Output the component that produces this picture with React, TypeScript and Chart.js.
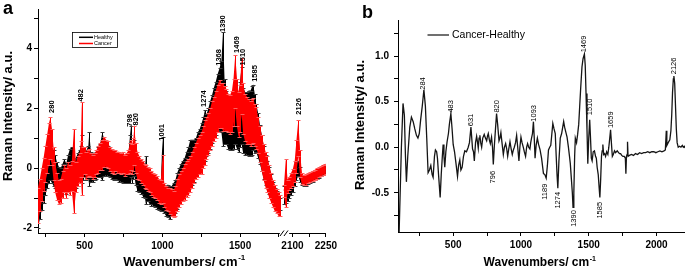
import React, { useEffect, useRef } from 'react';
import { Chart, registerables } from 'chart.js';

Chart.register(...registerables);

const FONT = '"Liberation Sans", Arial, Helvetica, sans-serif';

// ---------------- Panel a : Healthy vs Cancer (mean ± error) ----------------
const waveA = [
  200, 212, 224, 236, 248, 260, 270, 280, 290, 300,
  310, 322, 334, 346, 358, 370, 382, 394, 406, 418,
  431, 444, 456, 468, 476, 482, 490, 500, 512, 524,
  530, 540, 552, 564, 576, 588, 600, 614, 626, 638,
  650, 662, 674, 686, 698, 710, 722, 734, 746, 758,
  770, 782, 792, 798, 806, 814, 820, 828, 840, 852,
  864, 876, 888, 894, 906, 918, 930, 942, 954, 966,
  978, 990, 1001, 1012, 1024, 1036, 1048, 1060, 1072, 1084,
  1096, 1108, 1120, 1132, 1144, 1156, 1168, 1180, 1192, 1204,
  1216, 1228, 1240, 1252, 1264, 1274, 1284, 1296, 1308, 1320,
  1332, 1344, 1356, 1368, 1380, 1390, 1400, 1412, 1424, 1436,
  1448, 1458, 1469, 1480, 1490, 1500, 1510, 1520, 1532, 1544,
  1556, 1568, 1578, 1585, 1594, 1604, 1616, 1628, 1640, 1652,
  1664, 1676, 1688, 1700, 1712, 1724, 1736, 1748, 1756,
  2062, 2070, 2078, 2086, 2094, 2102, 2110, 2118, 2126, 2134,
  2142, 2150, 2160, 2170, 2180, 2190, 2200, 2210, 2220, 2230,
  2240, 2250,
];

const cancerMean = [
  -1.25, -0.9, -0.55, -0.2, 0.15, 0.5, 0.8, 1.0, 0.7, 0.15,
  -0.3, -0.6, -0.8, -0.75, -0.55, -0.35, -0.5, -0.3, -0.4, -0.25,
  -0.1, -0.3, -0.1, 0.0, 0.3, 0.65, 0.2, 0.25, 0.1, 0.15,
  0.2, 0.1, 0.05, 0.1, 0.2, 0.3, 0.4, 0.45, 0.55, 0.5,
  0.45, 0.3, 0.25, 0.2, 0.25, 0.2, 0.2, 0.15, 0.2, 0.1,
  0.15, 0.2, 0.35, 0.45, 0.3, 0.45, 0.75, 0.35, 0.1, 0.0,
  -0.1, -0.15, -0.25, -0.3, -0.35, -0.4, -0.5, -0.55, -0.6, -0.65,
  -0.75, -0.8, -0.35, -0.9, -1.0, -1.05, -1.1, -1.15, -1.2, -1.1,
  -0.9, -0.75, -0.65, -0.55, -0.45, -0.35, -0.3, -0.2, -0.05, 0.1,
  0.25, 0.35, 0.45, 0.5, 0.7, 0.85, 1.0, 1.15, 1.3, 1.5,
  1.65, 1.8, 2.0, 2.15, 2.1, 2.05, 2.0, 1.95, 1.85, 1.8,
  1.9, 2.2, 2.9, 2.2, 1.8, 2.0, 2.75, 2.0, 1.7, 1.6,
  1.55, 1.5, 1.55, 1.6, 1.45, 1.35, 1.1, 0.8, 0.5, 0.2,
  -0.05, -0.2, -0.45, -0.65, -0.85, -1.0, -1.1, -1.2, -1.25,
  -0.75, -0.5, -0.6, -0.5, -0.4, -0.3, -0.1, 0.4, 1.0, 0.15,
  -0.35, -0.4, -0.38, -0.34, -0.3, -0.26, -0.22, -0.18, -0.14, -0.08,
  -0.05, -0.02,
];

const cancerErr = [
  0.6, 0.55, 0.55, 0.55, 0.6, 0.65, 0.7, 0.7, 0.6, 0.55,
  0.5, 0.45, 0.4, 0.4, 0.45, 0.45, 0.5, 0.5, 0.5, 0.5,
  1.4, 0.5, 0.5, 0.5, 0.6, 1.55, 0.5, 0.45, 0.45, 0.45,
  0.45, 0.4, 0.4, 0.4, 0.4, 0.45, 0.45, 0.5, 0.5, 0.45,
  0.45, 0.4, 0.4, 0.4, 0.35, 0.35, 0.35, 0.35, 0.35, 0.35,
  0.35, 0.4, 0.5, 0.5, 0.5, 0.55, 0.65, 0.5, 0.45, 0.4,
  0.4, 0.4, 0.4, 0.4, 0.4, 0.4, 0.4, 0.4, 0.4, 0.4,
  0.4, 0.4, 0.8, 0.4, 0.4, 0.4, 0.45, 0.45, 0.45, 0.5,
  0.55, 0.55, 0.55, 0.55, 0.6, 0.6, 0.6, 0.6, 0.6, 0.6,
  0.6, 0.65, 0.65, 0.7, 0.7, 0.75, 0.7, 0.7, 0.7, 0.75,
  0.75, 0.8, 0.8, 0.8, 0.75, 0.8, 0.75, 0.7, 0.65, 0.65,
  0.7, 0.8, 0.9, 0.8, 0.75, 0.8, 0.95, 0.85, 0.8, 0.8,
  0.75, 0.75, 0.75, 0.75, 0.7, 0.7, 0.6, 0.6, 0.6, 0.6,
  0.6, 0.6, 0.55, 0.5, 0.45, 0.45, 0.4, 0.4, 0.35,
  0.2, 0.8, 0.22, 0.22, 0.25, 0.28, 0.35, 0.55, 0.6, 0.45,
  0.18, 0.17, 0.17, 0.17, 0.17, 0.17, 0.17, 0.17, 0.17, 0.17,
  0.17, 0.17,
];

const healthyMean = [
  -1.5, -1.2, -0.9, -0.65, -0.4, -0.2, -0.05, 0.1, 0.05, 0.0,
  -0.1, -0.3, -0.4, -0.45, -0.3, -0.2, -0.35, -0.1, 0.05, 0.1,
  -0.2, -0.15, -0.05, 0.1, 0.2, 0.3, 0.1, 0.15, 0.1, 0.2,
  0.3, 0.05, 0.0, 0.05, 0.1, 0.2, 0.25, 0.4, 0.35, 0.3,
  0.25, 0.15, 0.1, 0.05, 0.05, 0.0, -0.05, -0.05, -0.05, -0.1,
  -0.1, 0.0, 0.3, 0.55, 0.1, 0.2, 0.35, 0.0, -0.2, -0.3,
  -0.35, -0.45, -0.5, -0.4, -0.6, -0.7, -0.75, -0.8, -0.85, -0.9,
  -0.95, -1.0, -0.2, -1.05, -1.1, -1.1, -1.15, -1.1, -1.05, -0.95,
  -0.75, -0.6, -0.45, -0.35, -0.25, -0.1, 0.0, 0.2, 0.2, 0.25,
  0.35, 0.5, 0.6, 0.75, 0.9, 1.1, 1.1, 1.25, 1.45, 1.65,
  1.85, 2.0, 2.2, 2.3, 2.4, 2.65, 1.9, 1.7, 1.5, 1.45,
  1.5, 1.6, 1.8, 1.6, 1.5, 1.8, 2.1, 1.6, 1.5, 1.5,
  1.5, 1.5, 1.6, 1.7, 1.5, 1.35, 1.1, 0.8, 0.5, 0.2,
  -0.05, -0.2, -0.4, -0.6, -0.8, -0.95, -1.05, -1.15, -1.2,
  -0.9, -0.85, -0.8, -0.7, -0.6, -0.5, -0.3, -0.1, 0.0, -0.2,
  -0.4, -0.45, -0.43, -0.38, -0.34, -0.3, -0.26, -0.22, -0.18, -0.12,
  -0.09, -0.06,
];

const healthyErr = [
  0.5, 0.5, 0.5, 0.5, 0.5, 0.45, 0.45, 0.5, 0.55, 0.6,
  0.55, 0.5, 0.45, 0.45, 0.45, 0.5, 0.5, 0.55, 0.6, 0.6,
  0.5, 0.5, 0.55, 0.5, 0.55, 0.8, 0.5, 0.45, 0.5, 0.55,
  0.9, 0.5, 0.45, 0.45, 0.45, 0.5, 0.55, 0.8, 0.6, 0.55,
  0.5, 0.45, 0.45, 0.45, 0.4, 0.4, 0.4, 0.4, 0.45, 0.4,
  0.4, 0.5, 0.8, 0.85, 0.6, 0.55, 0.6, 0.55, 0.55, 0.5,
  0.5, 0.5, 0.5, 0.8, 0.5, 0.5, 0.5, 0.45, 0.45, 0.45,
  0.45, 0.45, 1.25, 0.45, 0.5, 0.55, 0.55, 0.5, 0.55, 0.55,
  0.6, 0.6, 0.6, 0.6, 0.6, 0.65, 0.7, 0.75, 0.75, 0.7,
  0.65, 0.7, 0.7, 0.75, 0.8, 0.85, 0.7, 0.75, 0.8, 0.8,
  0.85, 0.9, 0.95, 1.05, 1.2, 1.9, 1.1, 0.9, 0.85, 0.85,
  0.9, 0.95, 1.0, 0.95, 0.95, 1.1, 1.3, 1.1, 1.05, 1.05,
  1.1, 1.1, 1.15, 1.1, 1.0, 0.8, 0.75, 0.65, 0.6, 0.55,
  0.5, 0.45, 0.45, 0.4, 0.35, 0.3, 0.3, 0.25, 0.2,
  0.3, 0.3, 0.3, 0.3, 0.3, 0.3, 0.3, 0.3, 0.25, 0.25,
  0.15, 0.15, 0.15, 0.15, 0.15, 0.15, 0.15, 0.15, 0.15, 0.15,
  0.15, 0.15,
];

const tickWA = [250, 500, 750, 1000, 1250, 1500, 1750, 2100, 2175, 2250];
const tickLabelWA = [500, 1000, 1500, 2100, 2250];
const tickYA = [-2, -1, 0, 1, 2, 3, 4, 5];

const peakTextA = ['280', '482', '798', '820', '1001', '1274', '1368', '1390', '1469', '1510', '1585', '2126'];
const peakWA = [292, 479, 790, 833, 1000, 1269, 1363, 1392, 1479, 1521, 1597, 2130];
const peakVA = [1.85, 2.23, 1.39, 1.43, 0.92, 2.05, 3.43, 4.56, 3.86, 3.44, 2.89, 1.79];

// ---------------- Panel b : Cancer - Healthy ----------------
const waveB = [
  100, 118, 130, 140, 148, 155, 165, 180, 192, 205,
  217, 229, 240, 250, 260, 272, 284, 295, 305, 315,
  325, 335, 345, 352, 362, 369, 378, 384, 392, 404,
  412, 420, 426, 432, 438, 446, 455, 465, 472, 483,
  492, 500, 510, 520, 532, 540, 549, 557, 566, 576,
  586, 598, 611, 620, 631, 637, 643, 650, 656, 665,
  673, 680, 685, 691, 697, 703, 710, 718, 729, 738,
  747, 753, 759, 767, 774, 783, 790, 796, 803, 813,
  820, 828, 838, 845, 852, 860, 870, 878, 887, 895,
  902, 910, 919, 928, 936, 944, 951, 960, 968, 976,
  985, 992, 1000, 1008, 1017, 1025, 1034, 1042, 1049, 1057,
  1066, 1072, 1078, 1085, 1092, 1098, 1104, 1112, 1121, 1130,
  1141, 1152, 1166, 1176, 1186, 1195, 1203, 1212, 1220, 1228,
  1235, 1244, 1253, 1260, 1266, 1272, 1280, 1290, 1300, 1308,
  1315, 1322, 1330, 1340, 1350, 1358, 1364, 1372, 1379, 1384,
  1390, 1396, 1401, 1410, 1418, 1426, 1433, 1441, 1450, 1458,
  1468, 1474, 1480, 1487, 1493, 1500, 1507, 1513, 1519, 1525,
  1533, 1542, 1550, 1556, 1562, 1570, 1577, 1582, 1588, 1594,
  1599, 1604, 1610, 1617, 1624, 1632, 1641, 1648, 1655, 1661,
  1667, 1674, 1681, 1690, 1698, 1710, 1720, 1727, 1735, 1743,
  1752, 1762, 1770, 1774, 1778, 1783, 1786, 1790, 1800, 1815,
  1830, 1845, 1860, 1875, 1890, 1905, 1920, 1935, 1950, 1965,
  1980, 1995, 2010, 2025, 2040, 2055, 2065, 2072, 2076, 2086,
  2098, 2106, 2112, 2118, 2124, 2128, 2134, 2140, 2146, 2152,
  2160, 2170, 2180, 2190, 2198, 2205, 2210,
];

const diffB = [
  -1.0, 0.0, 0.48, 0.35, -0.1, -0.38, -0.1, 0.22, 0.33, 0.28,
  0.2, 0.13, 0.1, 0.15, 0.3, 0.45, 0.63, 0.45, 0.1, -0.28,
  -0.25, -0.2, -0.3, -0.33, -0.1, -0.03, -0.05, -0.12, -0.3, -0.55,
  -0.3, -0.1, 0.03, -0.1, -0.22, -0.05, 0.06, 0.15, 0.25, 0.37,
  0.2, 0.03, -0.05, -0.17, -0.32, -0.2, -0.14, -0.25, -0.22, -0.1,
  -0.04, -0.05, 0.0, 0.05, 0.22, 0.1, -0.02, -0.05, -0.15, 0.05,
  0.12, 0.05, -0.01, 0.1, 0.13, 0.05, 0.0, 0.1, 0.14, 0.1,
  0.07, 0.12, 0.15, 0.08, 0.04, 0.11, 0.0, -0.19, 0.0, 0.22,
  0.37, 0.25, 0.07, 0.1, 0.16, 0.05, -0.08, 0.0, 0.04, -0.02,
  -0.1, -0.02, 0.06, -0.02, -0.08, -0.03, 0.0, 0.05, 0.13, 0.0,
  -0.15, 0.0, 0.11, 0.05, 0.0, -0.05, -0.1, 0.0, 0.04, 0.0,
  -0.02, 0.05, 0.1, 0.15, 0.28, 0.1, -0.12, 0.02, 0.1, 0.03,
  -0.03, -0.12, -0.29, -0.3, -0.34, -0.2, -0.03, 0.0, 0.02, 0.15,
  0.26, 0.2, 0.15, -0.1, -0.3, -0.45, -0.15, 0.1, 0.15, 0.22,
  0.28, 0.22, 0.17, 0.11, 0.0, -0.1, -0.18, -0.35, -0.5, -0.66,
  -0.5, -0.1, 0.1, 0.05, 0.14, 0.25, 0.44, 0.66, 0.88, 0.97,
  1.02, 0.9, 0.59, 0.2, -0.18, 0.1, 0.3, 0.1, -0.12, -0.15,
  -0.05, -0.04, -0.1, -0.12, -0.22, -0.3, -0.45, -0.55, -0.35, -0.1,
  -0.04, 0.03, -0.08, -0.07, -0.1, -0.05, -0.08, 0.0, 0.1, 0.19,
  0.05, -0.1, -0.08, -0.04, -0.06, -0.04, -0.06, -0.07, -0.07, -0.09,
  -0.1, -0.1, -0.12, -0.29, -0.1, -0.08, 0.06, -0.1, -0.09, -0.08,
  -0.09, -0.07, -0.08, -0.06, -0.07, -0.06, -0.06, -0.05, -0.06, -0.05,
  -0.05, -0.06, -0.05, -0.04, -0.05, -0.04, -0.03, 0.18, 0.02, 0.05,
  0.08, 0.18, 0.35, 0.6, 0.75, 0.78, 0.7, 0.45, 0.2, 0.05,
  0.0, 0.01, 0.0, 0.02, 0.0, 0.01, -0.01,
];

const tickWB = [250, 500, 750, 1000, 1250, 1500, 1750, 2000];
const tickYB = [-0.75, -0.5, -0.25, 0, 0.25, 0.5, 0.75, 1, 1.25];

const peakTextB = ['284', '483', '631', '820', '796', '1093', '1189', '1274', '1390', '1469', '1510', '1585', '1659', '2126'];
const peakWB = [278, 481, 631, 821, 796, 1097, 1178, 1272, 1388, 1467, 1511, 1585, 1664, 2127];
const peakVB = [0.63, 0.38, 0.23, 0.38, -0.26, 0.28, -0.4, -0.49, -0.69, 1.04, 0.35, -0.6, 0.21, 0.8];
const peakUpB = [true, true, true, true, false, true, false, false, false, true, true, false, true, true];

// ---------------- broken x axis of panel a ----------------
const BREAK_AXIS = 1780;
const RIGHT_FROM = 2060;
const RIGHT_STRETCH = 1.432;
const AXIS_LEFT_END = 1756;
const AXIS_RIGHT_START = 2085;
const toAxis = (w: number) => (w < 1900 ? w : BREAK_AXIS + (w - RIGHT_FROM) * RIGHT_STRETCH);
const fromAxis = (t: number) => (t <= BREAK_AXIS ? t : RIGHT_FROM + (t - BREAK_AXIS) / RIGHT_STRETCH);

function buildPoints(ys: number[]) {
  const pts: { x: number; y: number | null }[] = [];
  waveA.forEach((w, i) => {
    if (i > 0 && w - waveA[i - 1] > 100) pts.push({ x: toAxis(waveA[i - 1]) + 1, y: null });
    pts.push({ x: toAxis(w), y: ys[i] });
  });
  return pts;
}

const tickFont = { family: FONT, size: 10, weight: 'bold' as const };
const gridOpts = () => ({ drawOnChartArea: false, drawTicks: true, tickLength: 4, color: '#000', lineWidth: 1 });

function drawXTitle(ctx: CanvasRenderingContext2D, cx: number, baseline: number, size: number) {
  const main = 'Wavenumbers/ cm';
  const sup = '-1';
  const supSize = Math.round(size * 0.62);
  ctx.font = `bold ${size}px ${FONT}`;
  const mw = ctx.measureText(main).width;
  ctx.font = `bold ${supSize}px ${FONT}`;
  const sw = ctx.measureText(sup).width;
  const start = cx - (mw + sw) / 2;
  ctx.fillStyle = '#000';
  ctx.textAlign = 'left';
  ctx.textBaseline = 'alphabetic';
  ctx.font = `bold ${size}px ${FONT}`;
  ctx.fillText(main, start, baseline);
  ctx.font = `bold ${supSize}px ${FONT}`;
  ctx.fillText(sup, start + mw + 0.5, baseline - size * 0.45);
}

function drawYTitle(ctx: CanvasRenderingContext2D, cx: number, cy: number, size: number) {
  ctx.save();
  ctx.translate(cx, cy);
  ctx.rotate(-Math.PI / 2);
  ctx.font = `bold ${size}px ${FONT}`;
  ctx.fillStyle = '#000';
  ctx.textAlign = 'center';
  ctx.textBaseline = 'middle';
  ctx.fillText('Raman Intensity/ a.u.', 0, 0);
  ctx.restore();
}

function drawVerticalLabel(ctx: CanvasRenderingContext2D, text: string, px: number, py: number, up: boolean, font: string) {
  ctx.save();
  ctx.translate(px, py);
  ctx.rotate(-Math.PI / 2);
  ctx.font = font;
  ctx.fillStyle = '#000';
  ctx.textAlign = up ? 'left' : 'right';
  ctx.textBaseline = 'middle';
  ctx.fillText(text, 0, 0);
  ctx.restore();
}

const errorBarPlugin = {
  id: 'errorBars',
  afterDatasetDraw(chart: any, args: any) {
    const spec =
      args.index === 2
        ? { m: healthyMean, e: healthyErr, c: '#000', cap: '#3a3a3a' }
        : args.index === 5
        ? { m: cancerMean, e: cancerErr, c: 'rgb(255,0,0)', cap: 'rgb(255,95,95)' }
        : null;
    if (!spec) return;
    const { ctx, chartArea: ca, scales } = chart;
    const x = scales.x;
    const y = scales.y;
    ctx.save();
    ctx.beginPath();
    ctx.rect(ca.left, ca.top, ca.right - ca.left, ca.bottom - ca.top);
    ctx.clip();
    ctx.lineWidth = 1;
    const bars = waveA.map((w, i) => ({
      px: Math.round(x.getPixelForValue(toAxis(w))) + 0.5,
      top: Math.round(y.getPixelForValue(spec.m[i] + spec.e[i])) + 0.5,
      bot: Math.round(y.getPixelForValue(spec.m[i] - spec.e[i])) + 0.5,
    }));
    ctx.strokeStyle = spec.c;
    ctx.beginPath();
    bars.forEach((b) => {
      ctx.moveTo(b.px, b.top);
      ctx.lineTo(b.px, b.bot);
    });
    ctx.stroke();
    ctx.strokeStyle = spec.cap;
    ctx.beginPath();
    bars.forEach((b) => {
      ctx.moveTo(b.px - 2, b.top);
      ctx.lineTo(b.px + 2, b.top);
      ctx.moveTo(b.px - 2, b.bot);
      ctx.lineTo(b.px + 2, b.bot);
    });
    ctx.stroke();
    ctx.restore();
  },
};

const decorA = {
  id: 'decorA',
  afterDraw(chart: any) {
    const { ctx, chartArea: ca, scales } = chart;
    const x = scales.x;
    const y = scales.y;
    ctx.save();
    // broken bottom axis
    const yb = Math.round(ca.bottom) + 0.5;
    const leftEnd = x.getPixelForValue(toAxis(AXIS_LEFT_END));
    const rightStart = x.getPixelForValue(toAxis(AXIS_RIGHT_START));
    ctx.strokeStyle = '#000';
    ctx.lineWidth = 1;
    ctx.beginPath();
    ctx.moveTo(ca.left, yb);
    ctx.lineTo(leftEnd, yb);
    ctx.moveTo(rightStart, yb);
    ctx.lineTo(ca.right, yb);
    const mid = (leftEnd + rightStart) / 2;
    ctx.moveTo(mid - 4.5, yb + 2.5);
    ctx.lineTo(mid - 0.5, yb - 3);
    ctx.moveTo(mid - 0.5, yb + 2.5);
    ctx.lineTo(mid + 3.5, yb - 3);
    ctx.stroke();

    // legend box
    const lx = ca.left + 34.5;
    const ly = ca.top + 23.5;
    ctx.lineWidth = 0.8;
    ctx.strokeStyle = '#000';
    ctx.strokeRect(lx, ly, 45, 15);
    ctx.lineWidth = 1.5;
    ctx.beginPath();
    ctx.moveTo(lx + 6.5, ly + 4.8);
    ctx.lineTo(lx + 20.5, ly + 4.8);
    ctx.stroke();
    ctx.strokeStyle = 'rgb(255,0,0)';
    ctx.beginPath();
    ctx.moveTo(lx + 6.5, ly + 11);
    ctx.lineTo(lx + 20.5, ly + 11);
    ctx.stroke();
    ctx.fillStyle = '#000';
    ctx.font = `5.5px ${FONT}`;
    ctx.textAlign = 'left';
    ctx.textBaseline = 'middle';
    ctx.fillText('Healthy', lx + 21.5, ly + 4.8);
    ctx.fillText('Cancer', lx + 21.5, ly + 11);

    // peak labels
    peakTextA.forEach((t, i) => {
      drawVerticalLabel(ctx, t, x.getPixelForValue(toAxis(peakWA[i])), y.getPixelForValue(peakVA[i]), true, `bold 7.5px ${FONT}`);
    });

    // titles and panel letter
    drawYTitle(ctx, 8, ca.top + 107, 13);
    drawXTitle(ctx, 184, 266, 13);
    ctx.fillStyle = '#000';
    ctx.font = `bold 18px ${FONT}`;
    ctx.textAlign = 'left';
    ctx.textBaseline = 'alphabetic';
    ctx.fillText('a', 3, 13.5);
    ctx.restore();
  },
};

const decorB = {
  id: 'decorB',
  afterDraw(chart: any) {
    const { ctx, chartArea: ca, scales } = chart;
    const x = scales.x;
    const y = scales.y;
    ctx.save();
    // legend
    ctx.strokeStyle = '#222';
    ctx.lineWidth = 1.3;
    ctx.beginPath();
    ctx.moveTo(ca.left + 29.5, 35);
    ctx.lineTo(ca.left + 51, 35);
    ctx.stroke();
    ctx.fillStyle = '#000';
    ctx.font = `10.5px ${FONT}`;
    ctx.textAlign = 'left';
    ctx.textBaseline = 'middle';
    ctx.fillText('Cancer-Healthy', ca.left + 54, 35.5);

    // peak labels
    peakTextB.forEach((t, i) => {
      drawVerticalLabel(ctx, t, x.getPixelForValue(peakWB[i]), y.getPixelForValue(peakVB[i]), peakUpB[i], `7.5px ${FONT}`);
    });

    drawYTitle(ctx, 15, 125, 13);
    drawXTitle(ctx, (ca.left + ca.right) / 2 - 2, 266, 12);
    ctx.fillStyle = '#000';
    ctx.font = `bold 18px ${FONT}`;
    ctx.textAlign = 'left';
    ctx.textBaseline = 'alphabetic';
    ctx.fillText('b', 17, 18.3);
    ctx.restore();
  },
};

function configA(): any {
  const hUp = healthyMean.map((m, i) => m + healthyErr[i]);
  const hLo = healthyMean.map((m, i) => m - healthyErr[i]);
  const cUp = cancerMean.map((m, i) => m + cancerErr[i]);
  const cLo = cancerMean.map((m, i) => m - cancerErr[i]);
  const hidden = { borderColor: 'transparent', borderWidth: 0, pointRadius: 0 };
  return {
    type: 'line',
    data: {
      datasets: [
        { ...hidden, data: buildPoints(hUp), fill: false, order: 6 },
        { ...hidden, data: buildPoints(hLo), fill: 0, backgroundColor: '#000', order: 5 },
        { data: buildPoints(healthyMean), borderColor: '#000', borderWidth: 1, pointRadius: 0, fill: false, order: 4 },
        { ...hidden, data: buildPoints(cUp), fill: false, order: 3 },
        { ...hidden, data: buildPoints(cLo), fill: 3, backgroundColor: 'rgb(255,0,0)', order: 2 },
        { data: buildPoints(cancerMean), borderColor: 'rgb(255,0,0)', borderWidth: 1, pointRadius: 0, fill: false, order: 1 },
      ],
    },
    options: {
      responsive: false,
      animation: false,
      devicePixelRatio: 1,
      spanGaps: false,
      layout: { padding: { top: 9, right: 14, bottom: 0, left: 0 } },
      plugins: { legend: { display: false }, tooltip: { enabled: false } },
      elements: { point: { radius: 0 }, line: { tension: 0 } },
      scales: {
        x: {
          type: 'linear',
          min: 200,
          max: toAxis(2250),
          border: { display: false },
          grid: gridOpts(),
          afterBuildTicks: (s: any) => {
            s.ticks = tickWA.map((w) => ({ value: toAxis(w) }));
          },
          afterFit: (s: any) => {
            s.height = 35;
          },
          ticks: {
            autoSkip: false,
            maxRotation: 0,
            minRotation: 0,
            padding: 3,
            color: '#000',
            font: tickFont,
            callback: (v: any) => {
              const w = Math.round(fromAxis(Number(v)));
              return tickLabelWA.includes(w) ? String(w) : '';
            },
          },
        },
        y: {
          type: 'linear',
          min: -2.17,
          max: 5.33,
          border: { display: true, color: '#000', width: 1 },
          grid: gridOpts(),
          afterBuildTicks: (s: any) => {
            s.ticks = tickYA.map((v) => ({ value: v }));
          },
          afterFit: (s: any) => {
            s.width = 38;
          },
          ticks: {
            padding: 2,
            color: '#000',
            font: tickFont,
            callback: (v: any) => (Number(v) % 2 === 0 ? String(v) : ''),
          },
        },
      },
    },
    plugins: [errorBarPlugin, decorA],
  };
}

function configB(): any {
  return {
    type: 'line',
    data: {
      datasets: [
        {
          data: waveB.map((w, i) => ({ x: w, y: diffB[i] })),
          borderColor: '#151515',
          borderWidth: 1.3,
          pointRadius: 0,
          fill: false,
          tension: 0,
        },
      ],
    },
    options: {
      responsive: false,
      animation: false,
      devicePixelRatio: 1,
      layout: { padding: { top: 20, right: 0, bottom: 0, left: 0 } },
      plugins: { legend: { display: false }, tooltip: { enabled: false } },
      scales: {
        x: {
          type: 'linear',
          min: 93,
          max: 2210,
          border: { display: true, color: '#000', width: 1 },
          grid: gridOpts(),
          afterBuildTicks: (s: any) => {
            s.ticks = tickWB.map((w) => ({ value: w }));
          },
          afterFit: (s: any) => {
            s.height = 36;
          },
          ticks: {
            autoSkip: false,
            maxRotation: 0,
            minRotation: 0,
            padding: 3,
            color: '#000',
            font: tickFont,
            callback: (v: any) => (Number(v) % 500 === 0 ? String(v) : ''),
          },
        },
        y: {
          type: 'linear',
          min: -0.93,
          max: 1.395,
          border: { display: true, color: '#000', width: 1 },
          grid: gridOpts(),
          afterBuildTicks: (s: any) => {
            s.ticks = tickYB.map((v) => ({ value: v }));
          },
          afterFit: (s: any) => {
            s.width = 53;
          },
          ticks: {
            padding: 5,
            color: '#000',
            font: tickFont,
            callback: (v: any) => {
              const n = Number(v);
              return Math.abs(n * 2 - Math.round(n * 2)) < 1e-6 ? n.toFixed(1) : '';
            },
          },
        },
      },
    },
    plugins: [decorB],
  };
}

export default function App() {
  const refA = useRef<HTMLCanvasElement>(null);
  const refB = useRef<HTMLCanvasElement>(null);

  useEffect(() => {
    const a = new Chart(refA.current as HTMLCanvasElement, configA());
    const b = new Chart(refB.current as HTMLCanvasElement, configB());
    return () => {
      a.destroy();
      b.destroy();
    };
  }, []);

  return (
    <div style={{ position: 'fixed', left: 0, top: 0, width: 685, height: 268, background: '#fff', overflow: 'hidden' }}>
      <canvas ref={refA} width={340} height={268} style={{ position: 'absolute', left: 0, top: 0, width: 340, height: 268 }} />
      <canvas ref={refB} width={340} height={268} style={{ position: 'absolute', left: 345, top: 0, width: 340, height: 268 }} />
    </div>
  );
}
